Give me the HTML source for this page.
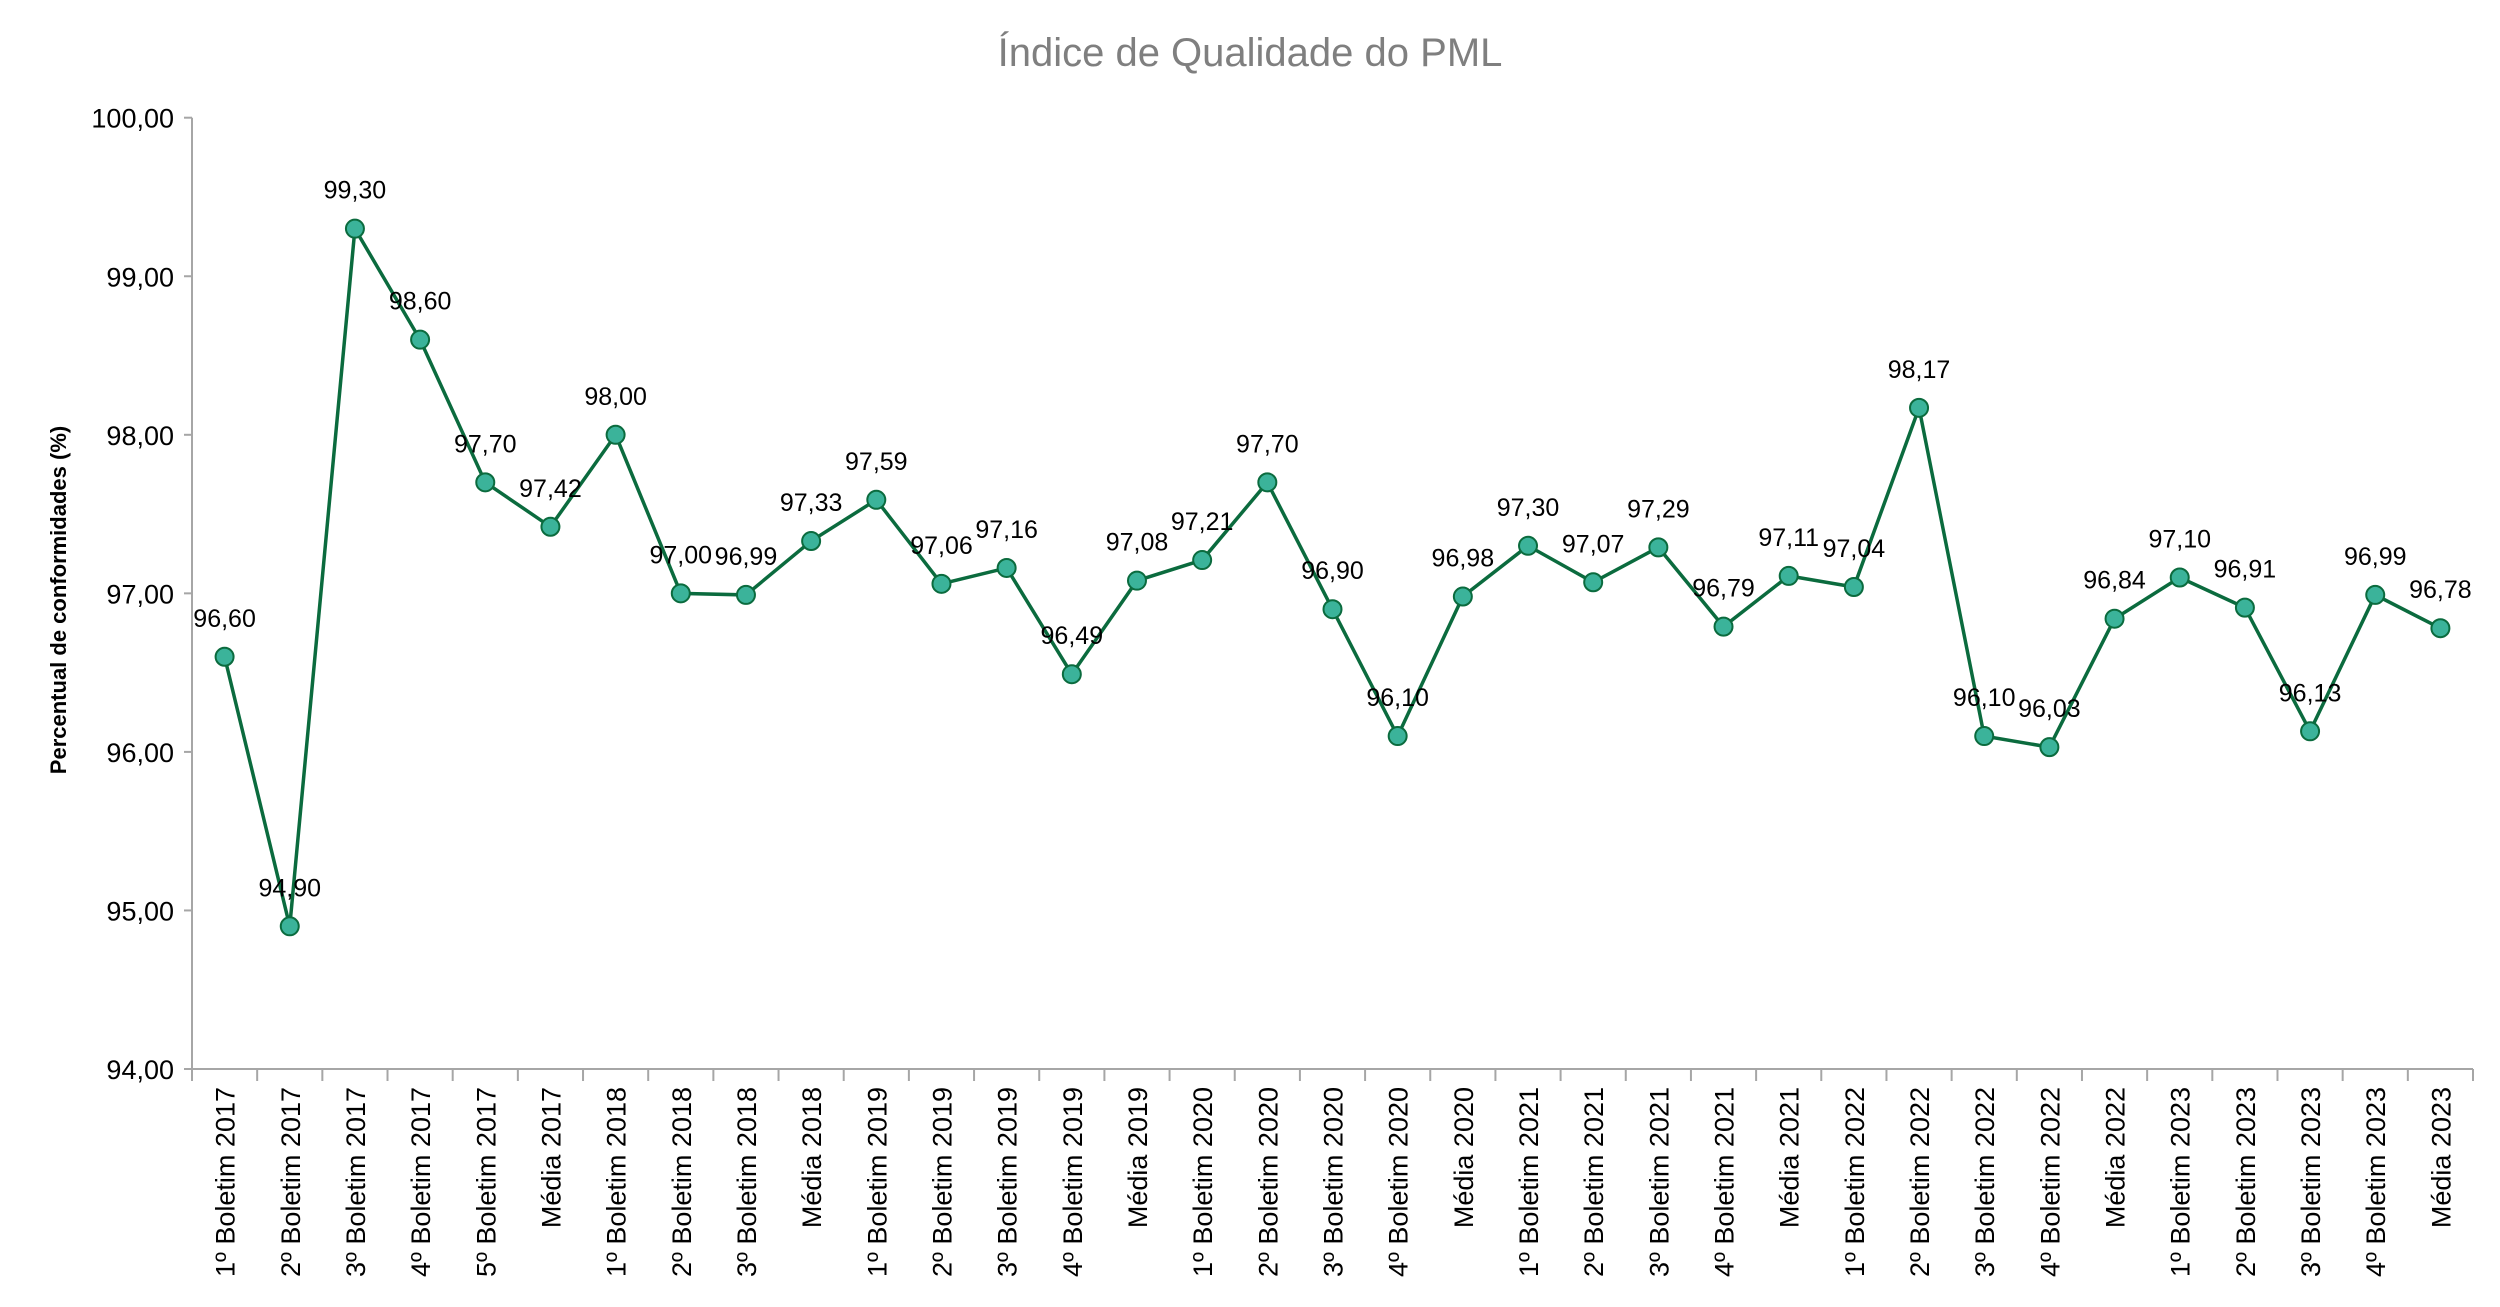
<!DOCTYPE html>
<html><head><meta charset="utf-8"><style>
body{margin:0;background:#fff;}
svg{display:block;font-family:"Liberation Sans",sans-serif;}
</style></head><body>
<svg id="chart" width="2500" height="1307" viewBox="0 0 2500 1307">
<text x="1250" y="66" text-anchor="middle" font-size="40" fill="#7f7f7f">Índice de Qualidade do PML</text>
<text transform="translate(66,600) rotate(-90)" text-anchor="middle" font-size="22" font-weight="bold" fill="#000">Percentual de conformidades (%)</text>
<g id="axes"></g><g id="series"></g>
</svg>
<script>
const categories=["1º Boletim 2017","2º Boletim 2017","3º Boletim 2017","4º Boletim 2017","5º Boletim 2017","Média 2017","1º Boletim 2018","2º Boletim 2018","3º Boletim 2018","Média 2018","1º Boletim 2019","2º Boletim 2019","3º Boletim 2019","4º Boletim 2019","Média 2019","1º Boletim 2020","2º Boletim 2020","3º Boletim 2020","4º Boletim 2020","Média 2020","1º Boletim 2021","2º Boletim 2021","3º Boletim 2021","4º Boletim 2021","Média 2021","1º Boletim 2022","2º Boletim 2022","3º Boletim 2022","4º Boletim 2022","Média 2022","1º Boletim 2023","2º Boletim 2023","3º Boletim 2023","4º Boletim 2023","Média 2023"];
const values=[96.60,94.90,99.30,98.60,97.70,97.42,98.00,97.00,96.99,97.33,97.59,97.06,97.16,96.49,97.08,97.21,97.70,96.90,96.10,96.98,97.30,97.07,97.29,96.79,97.11,97.04,98.17,96.10,96.03,96.84,97.10,96.91,96.13,96.99,96.78];
const yTicks=[94,95,96,97,98,99,100];
const NS="http://www.w3.org/2000/svg";
const L=192,R=2473,T=117.7,B=1069,ymin=94,ymax=100;
const bw=(R-L)/categories.length;
const x=i=>L+bw*(i+0.5);
const y=v=>B-(v-ymin)/(ymax-ymin)*(B-T);
const fmt=v=>v.toFixed(2).replace('.',',');
function mk(tag,attrs,parent){const e=document.createElementNS(NS,tag);for(const k in attrs)e.setAttribute(k,attrs[k]);parent.appendChild(e);return e;}
const ax=document.getElementById('axes'),se=document.getElementById('series');
let e=mk('line',{x1:L,y1:T,x2:L,y2:B,stroke:'#a6a6a6','stroke-width':2},ax);


e=mk('line',{x1:L,y1:B,x2:R,y2:B,stroke:'#a6a6a6','stroke-width':2},ax);


yTicks.forEach(t=>{
  mk('line',{x1:L-8,y1:y(t),x2:L,y2:y(t),stroke:'#a6a6a6','stroke-width':2},ax);
  const tx=mk('text',{x:L-18,y:y(t)+10,'text-anchor':'end','font-size':27,fill:'#000'},ax);
  tx.textContent=fmt(t);
  
  
});
for(let i=0;i<=categories.length;i++){mk('line',{x1:L+bw*i,y1:B,x2:L+bw*i,y2:B+12,stroke:'#a6a6a6','stroke-width':2},ax);}
categories.forEach((c,i)=>{
  const tx=mk('text',{transform:`translate(${x(i)+10},${B+18}) rotate(-90)`,'text-anchor':'end','font-size':27,fill:'#000'},ax);
  tx.textContent=c;
  
  
});
const pl=mk('polyline',{points:values.map((v,i)=>x(i)+','+y(v)).join(' '),fill:'none',stroke:'#0b6b3e','stroke-width':3.5},se);


values.forEach((v,i)=>{
  const c=mk('circle',{cx:x(i),cy:y(v),r:9,fill:'#3bb39a',stroke:'#0b6b3e','stroke-width':2},se);
  
  
  const t=mk('text',{x:x(i),y:y(v)-30,'text-anchor':'middle','font-size':25,fill:'#000'},se);
  t.textContent=fmt(v);
  
  
});
</script>
</body></html>
